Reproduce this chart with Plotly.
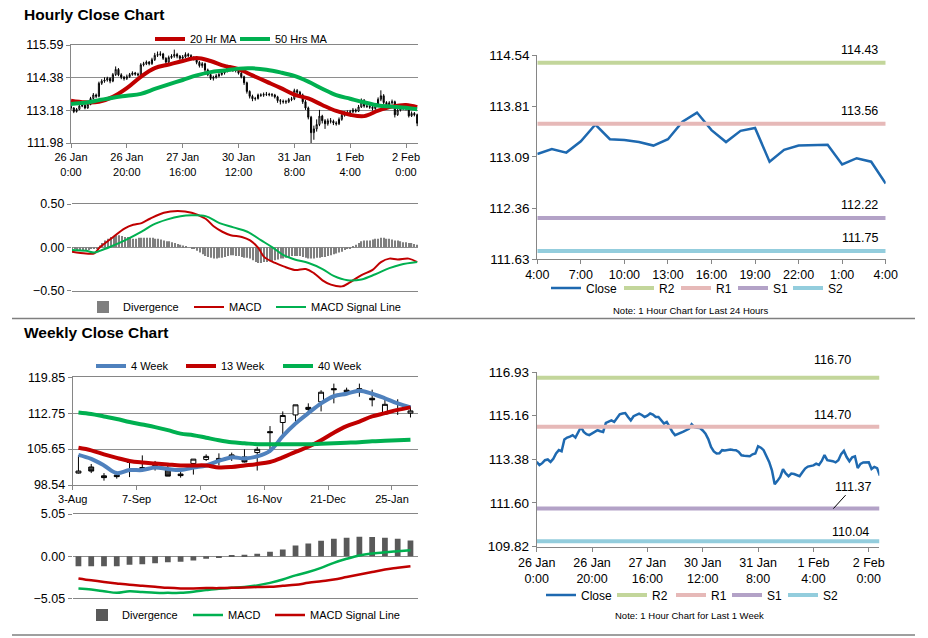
import plotly.graph_objects as go

# ----------------------------- DATA -----------------------------
# Hourly data, 26 Jan 0:00 .. 2 Feb 4:00 (trading hours, 125 bars)
hourly_open = [
    113.33, 113.27, 113.14, 113.22, 113.34, 113.37, 113.27, 113.40, 113.62, 113.75,
    113.70, 114.18, 114.26, 114.30, 114.36, 114.26, 114.50, 114.69, 114.49, 114.40,
    114.36, 114.42, 114.50, 114.56, 114.52, 114.49, 114.86, 114.90, 114.96, 114.90,
    115.05, 115.21, 115.24, 115.26, 115.10, 114.96, 115.13, 115.18, 115.24, 115.18,
    115.10, 115.15, 115.24, 115.20, 115.10, 115.10, 114.95, 114.83, 114.90, 114.67,
    114.50, 114.36, 114.40, 114.45, 114.50, 114.56, 114.62, 114.80, 114.69, 114.66,
    114.65, 114.55, 114.42, 114.20, 113.88, 113.70, 113.61, 113.62, 113.75, 113.74,
    113.77, 113.78, 113.76, 113.75, 113.68, 113.54, 113.52, 113.50, 113.50, 113.58,
    113.61, 113.91, 113.85, 113.75, 113.50, 113.27, 112.93, 112.36, 112.50, 112.66,
    112.97, 112.80, 112.69, 112.80, 112.78, 112.72, 112.69, 112.85, 113.00, 113.08,
    113.10, 113.13, 113.20, 113.15, 113.31, 113.55, 113.34, 113.33, 113.30, 113.25,
    113.34, 113.59, 113.72, 113.47, 113.30, 113.46, 113.50, 113.02, 113.19, 113.25,
    113.26, 113.26, 112.98, 113.07, 113.02]
hourly_high = [
    113.40, 113.30, 113.27, 113.38, 113.42, 113.41, 113.46, 113.68, 113.82, 113.80,
    114.24, 114.33, 114.40, 114.42, 114.40, 114.56, 114.80, 114.74, 114.55, 114.45,
    114.50, 114.56, 114.62, 114.60, 114.57, 114.92, 114.97, 115.02, 115.00, 115.12,
    115.30, 115.35, 115.36, 115.30, 115.14, 115.20, 115.25, 115.42, 115.30, 115.22,
    115.22, 115.32, 115.30, 115.25, 115.18, 115.14, 115.00, 114.96, 114.94, 114.72,
    114.55, 114.46, 114.52, 114.56, 114.62, 114.70, 114.86, 114.84, 114.75, 114.72,
    114.70, 114.60, 114.46, 114.24, 113.92, 113.76, 113.68, 113.80, 113.81, 113.84,
    113.86, 113.83, 113.82, 113.79, 113.72, 113.60, 113.58, 113.57, 113.64, 113.68,
    113.98, 113.97, 113.90, 113.80, 113.56, 113.32, 112.98, 112.62, 112.85, 113.20,
    113.02, 112.86, 112.88, 112.90, 112.84, 112.78, 112.92, 113.08, 113.15, 113.18,
    113.20, 113.27, 113.25, 113.38, 113.62, 113.60, 113.40, 113.38, 113.35, 113.42,
    113.66, 113.92, 113.78, 113.52, 113.52, 113.58, 113.54, 113.25, 113.32, 113.33,
    113.32, 113.30, 113.14, 113.12, 113.06]
hourly_low = [
    113.20, 113.08, 113.10, 113.19, 113.30, 113.22, 113.24, 113.37, 113.58, 113.63,
    113.66, 114.12, 114.20, 114.24, 114.18, 114.22, 114.45, 114.44, 114.33, 114.28,
    114.30, 114.38, 114.46, 114.46, 114.43, 114.45, 114.80, 114.85, 114.84, 114.86,
    115.00, 115.15, 115.18, 115.04, 114.90, 114.92, 115.08, 115.12, 115.10, 115.04,
    115.05, 115.10, 115.14, 115.05, 115.02, 114.88, 114.76, 114.75, 114.60, 114.44,
    114.30, 114.28, 114.35, 114.40, 114.46, 114.50, 114.58, 114.62, 114.60, 114.58,
    114.50, 114.36, 114.12, 113.80, 113.62, 113.52, 113.54, 113.58, 113.68, 113.68,
    113.71, 113.70, 113.68, 113.62, 113.46, 113.40, 113.43, 113.42, 113.45, 113.52,
    113.56, 113.78, 113.68, 113.42, 113.20, 112.85, 111.98, 112.10, 112.40, 112.60,
    112.70, 112.50, 112.62, 112.70, 112.64, 112.62, 112.64, 112.80, 112.95, 113.02,
    113.05, 113.08, 113.10, 113.12, 113.27, 113.28, 113.27, 113.24, 113.18, 113.20,
    113.30, 113.52, 113.40, 113.22, 113.25, 113.40, 112.92, 112.98, 113.14, 113.20,
    113.18, 112.92, 112.94, 112.96, 112.60]
hourly_close = [
    113.27, 113.14, 113.22, 113.34, 113.37, 113.27, 113.40, 113.62, 113.75, 113.70,
    114.18, 114.26, 114.30, 114.36, 114.26, 114.50, 114.69, 114.49, 114.40, 114.36,
    114.42, 114.50, 114.56, 114.52, 114.49, 114.86, 114.90, 114.96, 114.90, 115.05,
    115.21, 115.24, 115.26, 115.10, 114.96, 115.13, 115.18, 115.24, 115.18, 115.10,
    115.15, 115.24, 115.20, 115.10, 115.10, 114.95, 114.83, 114.90, 114.67, 114.50,
    114.36, 114.40, 114.45, 114.50, 114.56, 114.62, 114.80, 114.69, 114.66, 114.65,
    114.55, 114.42, 114.20, 113.88, 113.70, 113.61, 113.62, 113.75, 113.74, 113.77,
    113.78, 113.76, 113.75, 113.68, 113.54, 113.52, 113.50, 113.50, 113.58, 113.61,
    113.91, 113.85, 113.75, 113.50, 113.27, 112.93, 112.36, 112.50, 112.66, 112.97,
    112.80, 112.69, 112.80, 112.78, 112.72, 112.69, 112.85, 113.00, 113.08, 113.10,
    113.13, 113.20, 113.15, 113.31, 113.55, 113.34, 113.33, 113.30, 113.25, 113.34,
    113.59, 113.72, 113.47, 113.30, 113.46, 113.50, 113.02, 113.19, 113.25, 113.26,
    113.26, 112.98, 113.07, 113.02, 112.71]
hourly_divergence = [
    -0.02, -0.02, -0.03, -0.03, -0.03, -0.03, -0.03, -0.02, -0.02, -0.01,
    0.02, 0.05, 0.08, 0.10, 0.12, 0.13, 0.14, 0.14, 0.13, 0.12,
    0.12, 0.11, 0.10, 0.10, 0.11, 0.11, 0.11, 0.11, 0.11, 0.11,
    0.10, 0.10, 0.09, 0.08, 0.07, 0.07, 0.06, 0.05, 0.04, 0.03,
    0.02, 0.01, 0.00, -0.01, -0.02, -0.04, -0.06, -0.08, -0.10, -0.11,
    -0.12, -0.13, -0.13, -0.12, -0.12, -0.11, -0.10, -0.09, -0.09, -0.10,
    -0.10, -0.11, -0.12, -0.12, -0.13, -0.15, -0.17, -0.18, -0.18, -0.17,
    -0.17, -0.16, -0.16, -0.15, -0.14, -0.13, -0.13, -0.12, -0.11, -0.10,
    -0.10, -0.10, -0.10, -0.11, -0.12, -0.13, -0.13, -0.13, -0.12, -0.12,
    -0.11, -0.11, -0.10, -0.09, -0.08, -0.07, -0.06, -0.05, -0.03, -0.02,
    -0.01, 0.01, 0.03, 0.05, 0.07, 0.08, 0.08, 0.08, 0.09, 0.10,
    0.10, 0.11, 0.11, 0.10, 0.10, 0.09, 0.08, 0.08, 0.07, 0.06,
    0.06, 0.05, 0.05, 0.04, 0.03]
hourly_tick_index = [0, 20, 40, 60, 80, 100, 120]
hourly_tick_labels = ["26 Jan<br>0:00", "26 Jan<br>20:00", "27 Jan<br>16:00", "30 Jan<br>12:00",
                      "31 Jan<br>8:00", "1 Feb<br>4:00", "2 Feb<br>0:00"]

ma20_index = [0, 5, 10, 15, 20, 25, 30, 35, 40, 45, 50, 55, 60, 65, 70, 75, 80, 85, 90, 95, 100, 105, 110, 115, 120, 124]
ma20_values = [113.54, 113.48, 113.50, 113.68, 114.00, 114.42, 114.74, 114.87, 115.00, 115.11, 115.00, 114.82, 114.70,
               114.47, 114.24, 114.01, 113.76, 113.62, 113.38, 113.16, 113.02, 112.97, 113.17, 113.32, 113.38, 113.30]
ma50_index = [0, 5, 10, 15, 20, 25, 30, 35, 40, 45, 50, 55, 60, 65, 70, 75, 80, 85, 90, 95, 100, 105, 110, 115, 120, 124]
ma50_values = [113.42, 113.46, 113.56, 113.65, 113.72, 113.79, 113.97, 114.14, 114.30, 114.47, 114.59, 114.65, 114.72,
               114.73, 114.68, 114.58, 114.45, 114.24, 113.98, 113.74, 113.61, 113.48, 113.36, 113.32, 113.28, 113.22]

macd_h_index = [0, 5, 8, 10, 14, 19, 22, 25, 28, 33, 38, 43, 48, 51, 54, 57, 61, 64, 67, 69, 73, 76, 80, 84,
                87, 90, 93, 97, 100, 104, 108, 111, 114, 117, 121, 124]
macd_h_values = [-0.05, -0.07, -0.07, 0.00, 0.10, 0.22, 0.26, 0.28, 0.33, 0.40, 0.42, 0.40, 0.33, 0.24, 0.18, 0.14,
                 0.12, 0.08, -0.01, -0.11, -0.18, -0.22, -0.26, -0.25, -0.30, -0.38, -0.43, -0.45, -0.40, -0.32,
                 -0.26, -0.17, -0.13, -0.14, -0.13, -0.17]
signal_h_index = [0, 5, 8, 10, 14, 19, 25, 29, 34, 39, 43, 48, 53, 58, 63, 68, 72, 76, 80, 85, 90, 94, 99, 104,
                  109, 114, 118, 124]
signal_h_values = [-0.03, -0.04, -0.06, -0.04, 0.01, 0.08, 0.18, 0.26, 0.32, 0.36, 0.37, 0.36, 0.28, 0.23, 0.18,
                   0.08, 0.00, -0.09, -0.14, -0.18, -0.25, -0.33, -0.38, -0.37, -0.31, -0.24, -0.20, -0.17]

# last 24 hours (1 Feb 4:00 .. 2 Feb 4:00)
last24_tick_index = [0, 3, 6, 9, 12, 15, 18, 21, 24]
last24_tick_labels = ["4:00", "7:00", "10:00", "13:00", "16:00", "19:00", "22:00", "1:00", "4:00"]
level_names = ["R2", "R1", "S1", "S2"]
levels_24h = [114.43, 113.56, 112.22, 111.75]
levels_week = [116.70, 114.70, 111.37, 110.04]

# Weekly data (3-Aug .. 1-Feb)
weekly_open = [100.90, 102.10, 100.35, 100.50, 103.00, 102.00, 102.40, 101.50, 100.70, 102.80, 103.60, 103.80, 104.10,
               104.10, 104.96, 109.10, 110.90, 112.40, 113.90, 115.00, 117.60, 117.30, 117.60, 115.70, 112.60, 113.50, 112.75]
weekly_high = [104.40, 102.70, 100.90, 100.90, 103.30, 104.40, 103.30, 102.70, 101.10, 103.66, 104.60, 104.80, 104.95,
               105.60, 106.10, 110.20, 113.10, 114.40, 114.70, 117.30, 118.60, 117.80, 118.60, 117.40, 115.50, 115.50, 114.20]
weekly_low = [100.80, 100.90, 99.40, 99.80, 100.10, 101.70, 101.40, 100.30, 100.00, 100.60, 103.30, 102.40, 103.30,
              103.00, 101.40, 104.96, 108.50, 111.10, 112.90, 113.10, 114.70, 116.70, 116.00, 114.10, 112.60, 112.40, 111.90]
weekly_close = [101.30, 101.30, 100.00, 100.20, 103.30, 101.80, 102.20, 100.30, 100.40, 103.66, 104.20, 103.30, 104.50,
                103.10, 105.60, 108.90, 112.30, 114.40, 113.50, 116.90, 117.40, 117.00, 117.30, 115.40, 114.50, 113.30, 113.20]
ma4w = [104.5, 103.7, 102.4, 100.9, 101.5, 101.5, 102.0, 101.7, 101.5, 102.0, 102.4, 103.3, 104.0, 103.8,
        104.2, 105.3, 108.2, 110.7, 112.75, 114.7, 116.1, 116.6, 117.2, 116.6, 115.7, 114.7, 113.9]
ma13w = [105.9, 105.4, 104.6, 103.9, 103.3, 103.0, 102.8, 102.6, 102.4, 102.4, 102.4, 102.0, 102.1, 102.4,
         102.7, 103.1, 104.0, 105.1, 106.1, 107.4, 108.9, 110.2, 111.1, 112.1, 112.75, 113.4, 113.9]
ma40w = [112.9, 112.6, 112.1, 111.6, 111.0, 110.5, 110.0, 109.4, 108.7, 108.4, 107.9, 107.4, 107.0, 106.8,
         106.6, 106.6, 106.6, 106.6, 106.6, 106.7, 106.8, 106.9, 107.0, 107.2, 107.3, 107.4, 107.5]
weekly_divergence = [-1.20, -1.20, -1.20, -1.20, -1.04, -0.96, -0.84, -0.72, -0.68, -0.52, -0.32, -0.16, 0.02,
                     0.16, 0.28, 0.52, 0.80, 1.28, 1.52, 1.84, 2.08, 2.20, 2.32, 2.28, 2.20, 2.08, 1.88]
weekly_macd = [-3.87, -4.00, -4.20, -4.40, -4.20, -4.30, -4.40, -4.40, -4.40, -4.27, -4.07, -3.90, -3.80, -3.70,
               -3.50, -3.20, -2.80, -2.30, -1.90, -1.40, -0.80, -0.32, 0.08, 0.32, 0.48, 0.60, 0.72]
weekly_signal = [-2.67, -2.90, -3.10, -3.27, -3.43, -3.55, -3.67, -3.80, -3.87, -3.87, -3.83, -3.83, -3.80, -3.75,
                 -3.70, -3.67, -3.55, -3.43, -3.20, -3.00, -2.80, -2.50, -2.20, -1.90, -1.60, -1.40, -1.20]
week_tick_index = [0, 5, 10, 15, 20, 25]
week_tick_labels = ["3-Aug", "7-Sep", "12-Oct", "16-Nov", "21-Dec", "25-Jan"]

# ----------------------------- STYLE -----------------------------
W, H = 928, 638
FONT = "Liberation Sans, Arial, sans-serif"
GRID = "#8E8E8E"
AXIS = "#868686"
RED = "#C00000"
GREEN = "#00B050"
BLUE4 = "#4F81BD"
CLOSE_BLUE = "#1E69B0"
LEVEL_COLORS = ["#C3D69B", "#E6B9B8", "#B3A2C7", "#93CDDD"]


def fx(px):
    return px / W


def fy(py):
    return 1 - py / H


hour_x = list(range(len(hourly_close)))
week_x = list(range(len(weekly_close)))
last24_close = hourly_close[-25:]
last24_x = list(range(len(last24_close)))

fig = go.Figure()

# ---- Panel A: hourly candles + MAs
fig.add_trace(go.Candlestick(
    x=hour_x, open=hourly_open, high=hourly_high, low=hourly_low, close=hourly_close,
    xaxis="x", yaxis="y", showlegend=False, whiskerwidth=0,
    increasing=dict(line=dict(color="black", width=1), fillcolor="white"),
    decreasing=dict(line=dict(color="black", width=1), fillcolor="black")))
fig.add_trace(go.Scatter(x=ma20_index, y=ma20_values, mode="lines", name="20 Hr MA", legendwidth=40,
                         line=dict(color=RED, width=4, shape="spline"), xaxis="x", yaxis="y", legend="legend"))
fig.add_trace(go.Scatter(x=ma50_index, y=ma50_values, mode="lines", name="50 Hrs MA",
                         line=dict(color=GREEN, width=4, shape="spline"), xaxis="x", yaxis="y", legend="legend"))

# ---- Panel B: hourly MACD
fig.add_trace(go.Bar(x=hour_x, y=hourly_divergence, name="Divergence", width=0.45, legendwidth=61,
                     marker=dict(color="#7F7F7F", line=dict(width=0)), xaxis="x2", yaxis="y2", legend="legend2"))
fig.add_trace(go.Scatter(x=macd_h_index, y=macd_h_values, mode="lines", name="MACD", legendwidth=37,
                         line=dict(color=RED, width=2, shape="spline"), xaxis="x2", yaxis="y2", legend="legend2"))
fig.add_trace(go.Scatter(x=signal_h_index, y=signal_h_values, mode="lines", name="MACD Signal Line",
                         line=dict(color=GREEN, width=2, shape="spline"), xaxis="x2", yaxis="y2", legend="legend2"))

# ---- Panel C: last 24 hours
lw24 = [28, 12, 12, 10, None]
fig.add_trace(go.Scatter(x=last24_x, y=last24_close, mode="lines", name="Close", legendwidth=lw24[0],
                         line=dict(color=CLOSE_BLUE, width=2.5), xaxis="x3", yaxis="y3", legend="legend3"))
for i, (name, lv, col) in enumerate(zip(level_names, levels_24h, LEVEL_COLORS)):
    fig.add_trace(go.Scatter(x=[last24_x[0], last24_x[-1]], y=[lv, lv], mode="lines", name=name,
                             legendwidth=lw24[i + 1],
                             line=dict(color=col, width=4), xaxis="x3", yaxis="y3", legend="legend3"))

# ---- Panel D: weekly candles + MAs
fig.add_trace(go.Candlestick(
    x=week_x, open=weekly_open, high=weekly_high, low=weekly_low, close=weekly_close,
    xaxis="x4", yaxis="y4", showlegend=False, whiskerwidth=0,
    increasing=dict(line=dict(color="black", width=1), fillcolor="white"),
    decreasing=dict(line=dict(color="black", width=1), fillcolor="#404040")))
fig.add_trace(go.Scatter(x=week_x, y=ma4w, mode="lines", name="4 Week", legendwidth=45,
                         line=dict(color=BLUE4, width=4, shape="spline"), xaxis="x4", yaxis="y4", legend="legend4"))
fig.add_trace(go.Scatter(x=week_x, y=ma13w, mode="lines", name="13 Week", legendwidth=52,
                         line=dict(color=RED, width=4, shape="spline"), xaxis="x4", yaxis="y4", legend="legend4"))
fig.add_trace(go.Scatter(x=week_x, y=ma40w, mode="lines", name="40 Week",
                         line=dict(color=GREEN, width=4, shape="spline"), xaxis="x4", yaxis="y4", legend="legend4"))

# ---- Panel E: weekly MACD
fig.add_trace(go.Bar(x=week_x, y=weekly_divergence, name="Divergence", width=0.45, legendwidth=61,
                     marker=dict(color="#595959", line=dict(width=0)), xaxis="x5", yaxis="y5", legend="legend5"))
fig.add_trace(go.Scatter(x=week_x, y=weekly_macd, mode="lines", name="MACD", legendwidth=37,
                         line=dict(color=GREEN, width=2.5, shape="spline"), xaxis="x5", yaxis="y5", legend="legend5"))
fig.add_trace(go.Scatter(x=week_x, y=weekly_signal, mode="lines", name="MACD Signal Line",
                         line=dict(color=RED, width=2.5, shape="spline"), xaxis="x5", yaxis="y5", legend="legend5"))

# ---- Panel F: last week hourly close
lwwk = [26, 14, 11, 11, None]
fig.add_trace(go.Scatter(x=hour_x, y=hourly_close, mode="lines", name="Close", legendwidth=lwwk[0],
                         line=dict(color=CLOSE_BLUE, width=2.5), xaxis="x6", yaxis="y6", legend="legend6"))
for i, (name, lv, col) in enumerate(zip(level_names, levels_week, LEVEL_COLORS)):
    fig.add_trace(go.Scatter(x=[hour_x[0], hour_x[-1]], y=[lv, lv], mode="lines", name=name,
                             legendwidth=lwwk[i + 1],
                             line=dict(color=col, width=4), xaxis="x6", yaxis="y6", legend="legend6"))


# ----------------------------- AXES -----------------------------
def xax(x0, x1, rng, tv, tt, size, anchor, mirror=False, showline=True, showticks=True):
    return dict(domain=[fx(x0), fx(x1)], range=rng, anchor=anchor, showgrid=False, zeroline=False,
                showline=showline, linecolor=AXIS, linewidth=1, mirror=mirror, automargin=False,
                tickmode="array", tickvals=tv, ticktext=tt,
                ticks="outside" if showticks else "", ticklen=4, tickcolor=AXIS,
                tickfont=dict(family=FONT, size=size, color="black"), fixedrange=True,
                rangeslider=dict(visible=False))


def yax(y0, y1, rng, tv, size, anchor, grid, showline, fmt=".2f"):
    return dict(domain=[fy(y1), fy(y0)], range=rng, anchor=anchor, showgrid=grid, gridcolor=GRID, gridwidth=1,
                zeroline=False, showline=showline, linecolor=AXIS, linewidth=1, automargin=False,
                tickmode="array", tickvals=tv, tickformat=fmt, ticks="outside", ticklen=4, tickcolor=AXIS,
                tickfont=dict(family=FONT, size=size, color="black"), fixedrange=True)


layout = dict(
    width=W, height=H, margin=dict(l=0, r=0, t=0, b=0, autoexpand=False),
    paper_bgcolor="white", plot_bgcolor="white", hovermode=False, boxgap=0.45,
    font=dict(family=FONT, color="black"),
    barmode="overlay",
    # A
    xaxis=xax(71, 418, [0, 124.3], hourly_tick_index, hourly_tick_labels, 11, "y", mirror=True),
    yaxis=yax(45, 143, [111.98, 115.59], [111.98, 113.18, 114.38, 115.59], 12.5, "x", True, True),
    # B
    xaxis2=xax(72, 418, [0, 124.3], [], [], 11, "y2", mirror=True, showticks=False),
    yaxis2=yax(204, 290.7, [-0.5, 0.5], [-0.5, 0.0, 0.5], 12.5, "x2", True, False),
    # C
    xaxis3=xax(537.3, 885.7, [0, 24], last24_tick_index, last24_tick_labels, 12.5, "y3"),
    yaxis3=yax(55, 259.3, [111.63, 114.54], [111.63, 112.36, 113.09, 113.81, 114.54], 13.5, "x3", False, True),
    # D
    xaxis4=xax(72.7, 418, [-0.45, 26.59], [i - 0.45 for i in week_tick_index], week_tick_labels, 11, "y4", mirror=True),
    yaxis4=yax(377.3, 485, [98.54, 119.85], [98.54, 105.65, 112.75, 119.85], 12.5, "x4", True, True),
    # E
    xaxis5=xax(72.7, 418, [-0.45, 26.59], [], [], 11, "y5", mirror=True, showticks=False),
    yaxis5=yax(514, 598.3, [-5.05, 5.05], [-5.05, 0.0, 5.05], 12.5, "x5", True, False),
    # F
    xaxis6=xax(536.7, 879.3, [0, 123.8], hourly_tick_index, hourly_tick_labels, 12.5, "y6"),
    yaxis6=yax(372, 546.7, [109.82, 116.93], [109.82, 111.60, 113.38, 115.16, 116.93], 13.5, "x6", False, True),
)


def leg(xp, yp, size):
    return dict(x=fx(xp), y=fy(yp), xanchor="left", yanchor="middle", orientation="h",
                font=dict(family=FONT, size=size, color="black"), bgcolor="rgba(0,0,0,0)",
                itemwidth=30, tracegroupgap=0, traceorder="normal")


layout["legend"] = leg(150, 39, 11)
layout["legend2"] = leg(83, 307, 11)
layout["legend3"] = leg(546, 288, 12)
layout["legend4"] = leg(91, 366, 11)
layout["legend5"] = leg(82, 615, 11)
layout["legend6"] = leg(541, 595, 12)

fig.update_layout(**layout)

# zero lines for MACD panels
fig.update_yaxes(zeroline=True, zerolinecolor=GRID, zerolinewidth=1, selector=dict(anchor="x2"))
fig.update_yaxes(zeroline=True, zerolinecolor=GRID, zerolinewidth=1, selector=dict(anchor="x5"))

# ----------------------------- TEXT -----------------------------
ann = []
ann.append(dict(text="<b>Hourly Close Chart</b>", x=fx(22), y=fy(14), xref="paper", yref="paper",
                xanchor="left", yanchor="middle", showarrow=False, font=dict(family=FONT, size=15.5, color="black")))
ann.append(dict(text="<b>Weekly Close Chart</b>", x=fx(22), y=fy(332), xref="paper", yref="paper",
                xanchor="left", yanchor="middle", showarrow=False, font=dict(family=FONT, size=15.5, color="black")))
ann.append(dict(text="Note: 1 Hour Chart for Last 24 Hours", x=fx(690), y=fy(310), xref="paper", yref="paper",
                xanchor="center", yanchor="middle", showarrow=False, font=dict(family=FONT, size=9.5, color="black")))
ann.append(dict(text="Note: 1 Hour Chart for Last 1 Week", x=fx(689), y=fy(615), xref="paper", yref="paper",
                xanchor="center", yanchor="middle", showarrow=False, font=dict(family=FONT, size=9.5, color="black")))

for lv in levels_24h:
    ann.append(dict(text=f"{lv:.2f}", x=22.2, y=lv, xref="x3", yref="y3", xanchor="center", yanchor="bottom",
                    yshift=4, showarrow=False, font=dict(family=FONT, size=12.5, color="black")))

week_label_x = [107.0, 107.0, 107.2, 113.5]
week_label_shift = [9, 3, 0, 0]
for i, lv in enumerate(levels_week):
    if i == 2:
        ann.append(dict(text=f"{lv:.2f}", x=week_label_x[i], y=lv, xref="x6", yref="y6", showarrow=True,
                        arrowhead=0, arrowwidth=1, arrowcolor="black", ax=20, ay=-22, standoff=0,
                        font=dict(family=FONT, size=12.5, color="black")))
    else:
        ann.append(dict(text=f"{lv:.2f}", x=week_label_x[i], y=lv, xref="x6", yref="y6", xanchor="center",
                        yanchor="bottom", yshift=week_label_shift[i], showarrow=False,
                        font=dict(family=FONT, size=12.5, color="black")))

fig.update_layout(annotations=ann)

fig.update_layout(shapes=[
    dict(type="line", xref="paper", yref="paper", x0=fx(12), x1=fx(915), y0=fy(318.5), y1=fy(318.5),
         line=dict(color="#7F7F7F", width=1.5)),
    dict(type="line", xref="paper", yref="paper", x0=fx(12), x1=fx(915), y0=fy(635), y1=fy(635),
         line=dict(color="#7F7F7F", width=1.5)),
])

fig.write_html("out.html", config={"displayModeBar": False},
               post_script="document.body.style.margin='0';document.body.style.overflow='hidden';")
